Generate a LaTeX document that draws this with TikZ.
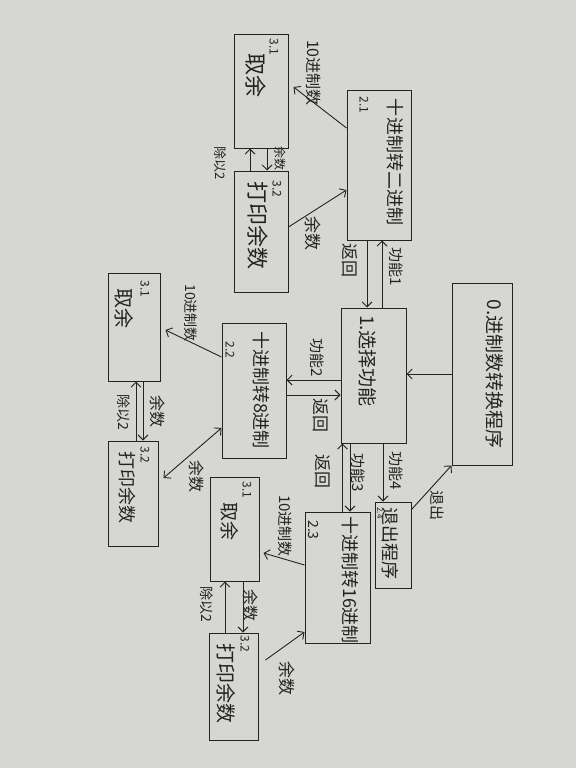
\documentclass[tikz,border=0pt]{standalone}
\usepackage{fontspec}
\setmainfont{Noto Sans CJK SC}
\usetikzlibrary{arrows.meta}
\definecolor{paper}{RGB}{214,214,211}
\definecolor{ink}{RGB}{35,35,35}
\tikzset{
  box/.style={draw=ink, line width=1pt, inner sep=0pt},
  arr/.style={draw=ink, line width=0.9pt, -{Straight Barb[length=5pt,width=10pt]}},
  darr/.style={draw=ink, line width=0.9pt, {Straight Barb[length=5pt,width=10pt]}-{Straight Barb[length=5pt,width=10pt]}},
  lbl/.style={text=ink, rotate=-90, inner sep=0pt, font=\fontsize{15}{15}\selectfont},
  btxt/.style={text=ink, rotate=-90, inner sep=0pt, font=\fontsize{18}{18}\selectfont},
  num/.style={text=ink, rotate=-90, inner sep=0pt, font=\fontsize{12}{12}\selectfont},
}
\begin{document}
\begin{tikzpicture}[x=1pt,y=-1pt]
\fill[paper] (0,0) rectangle (576,768);
\useasboundingbox (0,0) rectangle (576,768);

% boxes
\node[box, minimum width=60pt, minimum height=182pt] (m0) at (482,374) {};
\node[box, minimum width=65pt, minimum height=135pt] (b1) at (373.5,375.5) {};
\node[box, minimum width=64pt, minimum height=150pt] (b21) at (379,165) {};
\node[box, minimum width=54pt, minimum height=113pt] (b31a) at (261,91.5) {};
\node[box, minimum width=54pt, minimum height=121pt] (b32a) at (261,231.5) {};
\node[box, minimum width=64pt, minimum height=135pt] (b22) at (254,390.5) {};
\node[box, minimum width=52pt, minimum height=108pt] (b31b) at (134,327) {};
\node[box, minimum width=50pt, minimum height=105pt] (b32b) at (133,493.5) {};
\node[box, minimum width=65pt, minimum height=131pt] (b23) at (337.5,577.5) {};
\node[box, minimum width=49pt, minimum height=104pt] (b31c) at (234.5,529) {};
\node[box, minimum width=49pt, minimum height=107pt] (b32c) at (233.5,686.5) {};
\node[box, minimum width=36pt, minimum height=86pt] (b24) at (393,545) {};

% box texts
\node[btxt, font=\fontsize{19}{19}\selectfont] (t0) at (495,374) {0.进制数转换程序};
\node[btxt, font=\fontsize{19}{19}\selectfont] (t1) at (368,361) {1.选择功能};
\node[btxt] (t21) at (395,162) {十进制转二进制};
\node[num] (n21) at (364,105) {2.1};
\node[num] (n31a) at (274,47) {3.1};
\node[btxt, font=\fontsize{22}{22}\selectfont] (t31a) at (256,75) {取余};
\node[num] (n32a) at (277,189) {3.2};
\node[btxt, font=\fontsize{22}{22}\selectfont] (t32a) at (258,225) {打印余数};
\node[btxt] (t22) at (261,390) {十进制转8进制};
\node[num] (n22) at (230,350) {2.2};
\node[num] (n31b) at (145,289) {3.1};
\node[btxt, font=\fontsize{20}{20}\selectfont] (t31b) at (124,308) {取余};
\node[num] (n32b) at (145,455) {3.2};
\node[btxt] (t32b) at (127,487) {打印余数};
\node[btxt] (t23) at (350,580) {十进制转16进制};
\node[num, font=\fontsize{14}{14}\selectfont] (n23) at (313,530) {2.3};
\node[num] (n31c) at (247,490) {3.1};
\node[btxt, font=\fontsize{19}{19}\selectfont] (t31c) at (230,521) {取余};
\node[num] (n32c) at (245,644) {3.2};
\node[btxt, font=\fontsize{20}{20}\selectfont] (t32c) at (226,683) {打印余数};
\node[btxt] (t24) at (390,543) {退出程序};
\node[num, font=\fontsize{8}{8}\selectfont] (n24) at (380,513) {2.4};

% connectors: main and selection
\draw[arr] (m0.west) -- (m0.west -| b1.east);
\draw[arr] ([yshift=-8pt]b24.north east) -- (m0.south west);
\draw[arr] ([xshift=8.5pt]b1.north) -- ([xshift=8.5pt]b1.north |- b21.south);
\draw[arr] ([xshift=-6.5pt]b1.north |- b21.south) -- ([xshift=-6.5pt]b1.north);
\draw[arr] ([yshift=-4.5pt]b1.west) -- ([yshift=-4.5pt]b1.west -| b22.east);
\draw[arr] ([yshift=-19.5pt]b1.west -| b22.east) -- ([yshift=-19.5pt]b1.west);
\draw[arr] ([xshift=-23.5pt]b1.south) -- ([xshift=-23.5pt]b1.south |- b23.north);
\draw[arr] ([xshift=-31pt]b1.south |- b23.north) -- ([xshift=-31pt]b1.south);
\draw[arr] ([xshift=9.5pt]b1.south) -- ([xshift=9.5pt]b1.south |- b24.north);

% group 2.1
\draw[arr] ([yshift=37pt]b21.west) -- ([xshift=5pt,yshift=4.5pt]b31a.east);
\draw[arr] ([yshift=4.5pt]b32a.east) -- ([yshift=-25pt]b21.west);
\draw[arr] ([xshift=-11pt]b32a.north) -- ([xshift=-11pt]b31a.south);
\draw[arr] ([xshift=6pt]b31a.south) -- ([xshift=6pt]b32a.north);

% group 2.2
\draw[arr] ([yshift=33.5pt]b22.west) -- ([xshift=5pt,yshift=-3pt]b31b.east);
\draw[darr] ([xshift=5pt,yshift=15.5pt]b32b.east) -- ([yshift=-37.5pt]b22.west);
\draw[arr] ([xshift=3pt]b32b.north) -- ([xshift=3pt]b32b.north |- b31b.south);
\draw[arr] ([xshift=9pt]b31b.south) -- ([xshift=9pt]b31b.south |- b32b.north);

% group 2.3
\draw[arr] ([yshift=12.5pt]b23.west) -- ([xshift=4pt,yshift=-24pt]b31c.east);
\draw[arr] ([xshift=7pt,yshift=26.5pt]b32c.east) -- ([yshift=-54.5pt]b23.west);
\draw[arr] ([xshift=-9.5pt]b31c.south |- b32c.north) -- ([xshift=-9.5pt]b31c.south);
\draw[arr] ([xshift=8.5pt]b31c.south) -- ([xshift=8.5pt]b31c.south |- b32c.north);

% connector labels
\node[lbl] (l0) at (437,505) {退出};
\node[lbl] (l1) at (396,267) {功能1};
\node[lbl, font=\fontsize{17}{17}\selectfont] (l2) at (350,260) {返回};
\node[lbl] (l3) at (317,358) {功能2};
\node[lbl, font=\fontsize{17}{17}\selectfont] (l4) at (321,415) {返回};
\node[lbl, font=\fontsize{17}{17}\selectfont] (l5) at (323,471) {返回};
\node[lbl] (l6) at (358,473) {功能3};
\node[lbl] (l7) at (396,471) {功能4};

\node[lbl, font=\fontsize{16}{16}\selectfont] (l8) at (314,73) {10进制数};
\node[lbl, font=\fontsize{17}{17}\selectfont] (l9) at (313,233) {余数};
\node[lbl, font=\fontsize{13}{13}\selectfont] (l10) at (220,163) {除以2};
\node[lbl, font=\fontsize{12}{12}\selectfont] (l11) at (280,158) {余数};

\node[lbl, font=\fontsize{14}{14}\selectfont] (l12) at (191,313) {10进制数};
\node[lbl, font=\fontsize{16}{16}\selectfont] (l13) at (158,411) {余数};
\node[lbl, font=\fontsize{14}{14}\selectfont] (l14) at (124,412) {除以2};
\node[lbl, font=\fontsize{16}{16}\selectfont] (l15) at (197,476) {余数};

\node[lbl, font=\fontsize{15}{15}\selectfont] (l16) at (285,526) {10进制数};
\node[lbl, font=\fontsize{14}{14}\selectfont] (l17) at (207,604) {除以2};
\node[lbl, font=\fontsize{16}{16}\selectfont] (l18) at (251,605) {余数};
\node[lbl, font=\fontsize{17}{17}\selectfont] (l19) at (287,678) {余数};
\end{tikzpicture}
\end{document}
